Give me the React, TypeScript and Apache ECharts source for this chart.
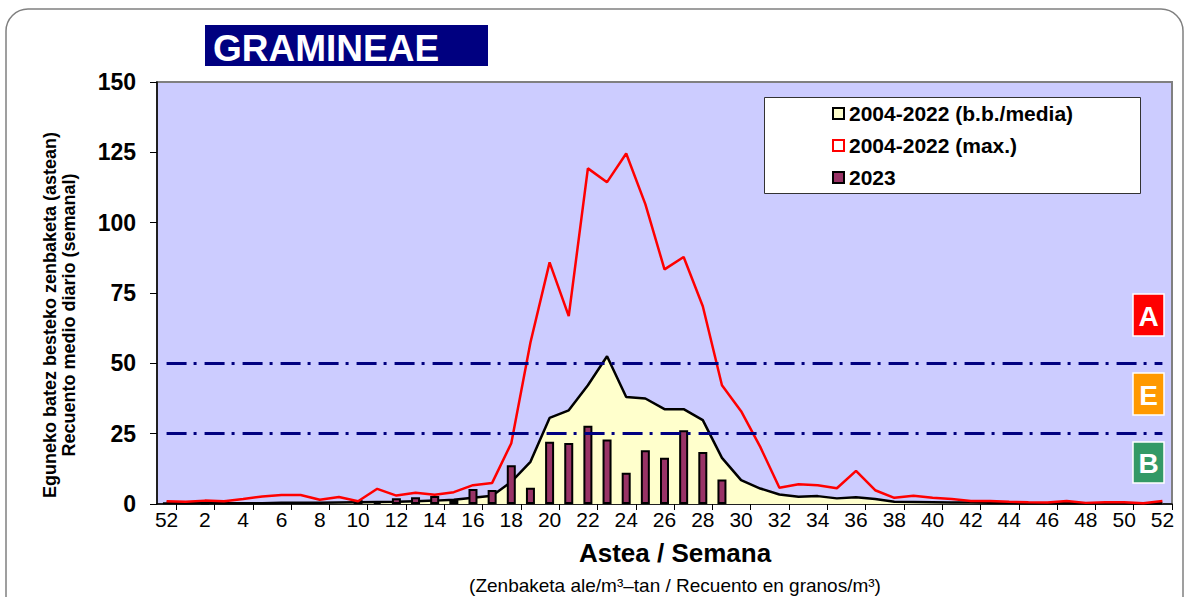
import React, { useEffect, useRef } from "react";
import * as echarts from "echarts";

const FONT = '"Liberation Sans", Arial, Helvetica, sans-serif';

const weekLabels = [
  "52", "1", "2", "3", "4", "5", "6", "7", "8", "9", "10", "11", "12", "13", "14", "15", "16", "17", "18", "19",
  "20", "21", "22", "23", "24", "25", "26", "27", "28", "29", "30", "31", "32", "33", "34", "35", "36", "37", "38",
  "39", "40", "41", "42", "43", "44", "45", "46", "47", "48", "49", "50", "51", "52",
];

// 2004-2022 mean (b.b./media)
const meanValues = [
  0.4, 0.3, 0.4, 0.3, 0.3, 0.3, 0.4, 0.4, 0.4, 0.5, 0.6, 0.7, 0.8, 1.0, 1.2, 1.5, 2.2, 2.9, 7.9, 15.0,
  30.6, 33.3, 42.2, 52.5, 38.0, 37.5, 33.7, 33.7, 29.8, 16.4, 8.5, 5.5, 3.4, 2.6, 2.8, 2.0, 2.4, 1.8, 0.8,
  0.7, 0.6, 0.5, 0.5, 0.4, 0.4, 0.3, 0.3, 0.3, 0.3, 0.3, 0.3, 0.2, 0.3,
];

// 2004-2022 max.
const maxValues = [
  1.0, 0.8, 1.2, 1.0, 1.8, 2.7, 3.2, 3.2, 1.5, 2.5, 1.0, 5.4, 3.0, 4.0, 3.3, 4.2, 6.7, 7.5, 21.6, 57.4,
  85.9, 66.8, 119.3, 114.4, 124.6, 106.6, 83.4, 87.8, 70.3, 42.2, 33.0, 20.3, 5.8, 7.0, 6.7, 5.6, 11.8, 4.9, 2.2,
  2.9, 2.2, 1.8, 1.1, 1.1, 0.8, 0.6, 0.5, 1.1, 0.4, 0.6, 0.6, 0.3, 1.1,
];

// 2023
const values2023 = [
  0.6, null, 0.3, null, null, null, null, null, null, null, 1.4, 0.7, 2.0, 2.4, 2.8, 1.4, 5.3, 5.0, 13.8, 5.8,
  22.1, 21.7, 27.8, 22.9, 11.1, 19.1, 16.4, 26.2, 18.5, 8.7, null, null, null, null, null, null, null, null, null,
  null, null, null, null, null, null, null, null, null, null, null, null, null, null,
];

const yTicks = { min: 0, max: 150, interval: 25 };
const thresholds = [50, 25];

const seriesNames = {
  mean: "2004-2022 (b.b./media)",
  max: "2004-2022 (max.)",
  y2023: "2023",
};

export default function App() {
  const ref = useRef<HTMLDivElement>(null);

  useEffect(() => {
    if (!ref.current) return;
    const chart = echarts.init(ref.current, null, { renderer: "svg" });

    const letterBox = (letter: string, color: string, y: number, h: number) => [
      {
        type: "rect",
        z: 100,
        silent: true,
        shape: { x: 1133, y, width: 31, height: h },
        style: { fill: color, stroke: "#ffffff", lineWidth: 1.5 },
      },
      {
        type: "text",
        z: 101,
        silent: true,
        x: 1148.5,
        y: y + h / 2 + 1,
        style: {
          text: letter,
          fill: "#ffffff",
          fontSize: 28,
          fontWeight: "bold",
          fontFamily: FONT,
          textAlign: "center",
          textVerticalAlign: "middle",
        },
      },
    ];

    const option: any = {
      animation: false,
      backgroundColor: "#ffffff",
      textStyle: { fontFamily: FONT },
      grid: {
        left: 157,
        right: 17,
        top: 82,
        bottom: 93,
        show: true,
        backgroundColor: "#CCCCFF",
        borderColor: "#808080",
        borderWidth: 2,
      },
      xAxis: {
        type: "category",
        data: weekLabels,
        boundaryGap: true,
        axisLine: { show: true, lineStyle: { color: "#000000", width: 1.5 } },
        axisTick: {
          show: true,
          interval: (i: number) => i % 2 === 1,
          length: 6,
          lineStyle: { color: "#000000", width: 1 },
        },
        axisLabel: {
          interval: 1,
          color: "#000000",
          fontSize: 21,
          fontFamily: FONT,
          margin: 5,
        },
        splitLine: { show: false },
      },
      yAxis: {
        type: "value",
        min: yTicks.min,
        max: yTicks.max,
        interval: yTicks.interval,
        axisLine: { show: true, lineStyle: { color: "#000000", width: 1.5 } },
        axisTick: { show: true, length: 7, lineStyle: { color: "#000000", width: 1 } },
        axisLabel: {
          color: "#000000",
          fontSize: 23,
          fontWeight: "bold",
          fontFamily: FONT,
          margin: 21,
        },
        splitLine: { show: false },
      },
      legend: {
        left: 832,
        top: 103,
        orient: "vertical",
        itemWidth: 11,
        itemHeight: 11,
        itemGap: 11,
        padding: 0,
        z: 60,
        selectedMode: false,
        textStyle: {
          fontSize: 21,
          fontWeight: "bold",
          color: "#000000",
          fontFamily: FONT,
          lineHeight: 20,
        },
        data: [
          {
            name: seriesNames.mean,
            icon: "rect",
            itemStyle: { color: "#FFFFCC", borderColor: "#000000", borderWidth: 2 },
          },
          {
            name: seriesNames.max,
            icon: "rect",
            itemStyle: { color: "#FFFFFF", borderColor: "#FF0000", borderWidth: 2 },
          },
          {
            name: seriesNames.y2023,
            icon: "rect",
            itemStyle: { color: "#993366", borderColor: "#000000", borderWidth: 2 },
          },
        ],
      },
      series: [
        {
          type: "line",
          name: seriesNames.mean,
          data: meanValues,
          symbol: "none",
          z: 2,
          lineStyle: { color: "#000000", width: 2.5 },
          itemStyle: { color: "#000000" },
          areaStyle: { color: "#FFFFCC", opacity: 1 },
        },
        {
          type: "bar",
          name: seriesNames.y2023,
          data: values2023,
          barWidth: 9,
          z: 3,
          itemStyle: { color: "#993366", borderColor: "#000000", borderWidth: 2 },
        },
        {
          type: "line",
          name: seriesNames.max,
          data: maxValues,
          symbol: "none",
          z: 4,
          lineStyle: { color: "#FF0000", width: 2.5 },
          itemStyle: { color: "#FF0000" },
          markLine: {
            silent: true,
            symbol: "none",
            label: { show: false },
            lineStyle: { color: "#000080", width: 3, type: [20, 7, 3, 8] },
            data: thresholds.map((t) => [
              { coord: [0, t] },
              { coord: [weekLabels.length - 1, t] },
            ]),
          },
        },
      ],
      graphic: [
        {
          type: "rect",
          z: 100,
          silent: true,
          shape: { x: 6, y: 9, width: 1177, height: 640, r: 22 },
          style: { fill: "none", stroke: "#808080", lineWidth: 1.5 },
        },
        {
          type: "rect",
          z: 100,
          silent: true,
          shape: { x: 205, y: 25, width: 283, height: 41 },
          style: { fill: "#000080" },
        },
        {
          type: "text",
          z: 101,
          silent: true,
          x: 213,
          y: 48,
          style: {
            text: "GRAMINEAE",
            fill: "#ffffff",
            fontSize: 37,
            fontWeight: "bold",
            fontFamily: FONT,
            textVerticalAlign: "middle",
          },
        },
        {
          type: "rect",
          z: 50,
          silent: true,
          shape: { x: 764.5, y: 97.5, width: 376, height: 96 },
          style: { fill: "#ffffff", stroke: "#333333", lineWidth: 1 },
        },
        {
          type: "text",
          z: 100,
          silent: true,
          x: 59,
          y: 315,
          rotation: Math.PI / 2,
          style: {
            text: "Eguneko batez besteko zenbaketa (astean)\nRecuento medio diario (semanal)",
            fill: "#000000",
            fontSize: 18,
            fontWeight: "bold",
            fontFamily: FONT,
            lineHeight: 19,
            textAlign: "center",
            textVerticalAlign: "middle",
          },
        },
        {
          type: "text",
          z: 100,
          silent: true,
          x: 675,
          y: 553,
          style: {
            text: "Astea / Semana",
            fill: "#000000",
            fontSize: 26,
            fontWeight: "bold",
            fontFamily: FONT,
            textAlign: "center",
            textVerticalAlign: "middle",
          },
        },
        {
          type: "text",
          z: 100,
          silent: true,
          x: 675,
          y: 585,
          style: {
            text: "(Zenbaketa ale/m³–tan / Recuento en granos/m³)",
            fill: "#000000",
            fontSize: 19,
            fontFamily: FONT,
            textAlign: "center",
            textVerticalAlign: "middle",
          },
        },
        ...letterBox("A", "#FF0000", 294, 42),
        ...letterBox("E", "#FF9900", 373, 42),
        ...letterBox("B", "#339966", 442, 41),
      ],
    };

    chart.setOption(option);
    return () => chart.dispose();
  }, []);

  return (
    <div
      ref={ref}
      style={{ position: "fixed", left: 0, top: 0, width: 1189, height: 597 }}
    />
  );
}
